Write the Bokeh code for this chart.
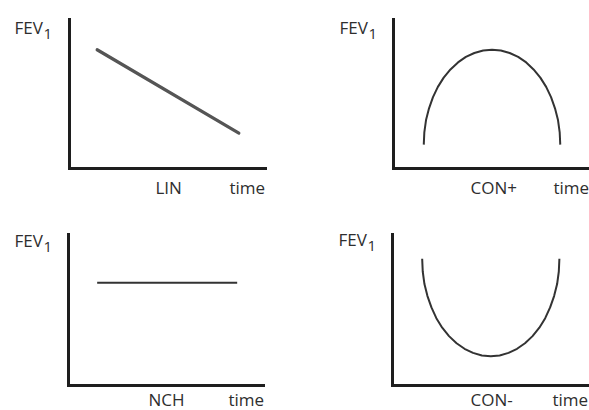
from bokeh.plotting import figure
from bokeh.layouts import gridplot
from bokeh.models import Range1d, FixedTicker, LinearAxis
from bokeh.core.properties import value
from bokeh.embed import file_html
from bokeh.resources import INLINE

# ---- data (arbitrary units 0..10) ----
lin_time = [1.41, 8.64]
lin_fev = [7.97, 2.37]

conp_time = [1.61, 1.64, 1.73, 1.89, 2.10, 2.36, 2.67, 3.03, 3.43, 3.85, 4.30, 4.77, 5.24,
             5.71, 6.18, 6.63, 7.06, 7.45, 7.81, 8.12, 8.38, 8.59, 8.75, 8.84, 8.87]
conp_fev = [1.60, 2.43, 3.25, 4.04, 4.79, 5.48, 6.10, 6.65, 7.12, 7.49, 7.75, 7.92, 7.97,
            7.92, 7.75, 7.49, 7.12, 6.65, 6.10, 5.48, 4.79, 4.04, 3.25, 2.43, 1.60]

nch_time = [1.47, 8.65]
nch_fev = [6.80, 6.80]

conm_time = [1.57, 1.60, 1.69, 1.85, 2.06, 2.32, 2.63, 2.99, 3.39, 3.81, 4.26, 4.73, 5.20,
             5.67, 6.14, 6.59, 7.01, 7.41, 7.77, 8.08, 8.34, 8.55, 8.71, 8.80, 8.83]
conm_fev = [8.39, 7.55, 6.72, 5.92, 5.17, 4.46, 3.83, 3.27, 2.80, 2.43, 2.16, 1.99, 1.94,
            1.99, 2.16, 2.43, 2.80, 3.27, 3.83, 4.46, 5.17, 5.92, 6.72, 7.55, 8.39]

panel_names = ["LIN", "CON+", "NCH", "CON-"]
y_label = "FEV"
y_label_sub = "1"
x_label = "time"

FONT = "Open Sans"
TXT = "#2e2e2e"
AXC = "#1e1e1e"


class Panel:
    def __init__(self, w, h, ox, oy, sx, sy, x_end):
        # ox, oy: pixel position of the axes origin from the figure's top-left
        # sx, sy: pixels per data unit
        self.sx, self.sy = sx, sy
        x_range = Range1d(-ox / sx, (w - ox) / sx)
        y_range = Range1d(-(h - oy) / sy, oy / sy)
        p = figure(width=w, height=h, x_range=x_range, y_range=y_range,
                   min_border=0, x_axis_location=None, y_axis_location=None,
                   output_backend="svg", toolbar_location=None)
        p.grid.visible = False
        p.outline_line_color = None
        p.background_fill_color = "white"
        p.border_fill_color = "white"
        for side, bounds in (("below", (0, x_end)), ("left", (0, 10))):
            ax = LinearAxis(fixed_location=0, bounds=bounds,
                            ticker=FixedTicker(ticks=[]),
                            major_label_text_font_size="0px",
                            major_tick_line_color=None, minor_tick_line_color=None,
                            axis_line_width=3, axis_line_color=AXC,
                            axis_line_cap="square")
            p.add_layout(ax, side)
        self.p = p

    def text(self, txt, dx, dy, size="17px"):
        # dx, dy: pixel offsets from the origin (dy positive downwards)
        self.p.text(x=[dx / self.sx], y=[-dy / self.sy], text=[txt],
                    text_font=value(FONT), text_font_size=value(size),
                    text_color=TXT, text_align="left", text_baseline="alphabetic")

    def labels(self, name, fev_dx, fev_dy, name_dx, time_dx, bottom_dy):
        self.text(y_label, fev_dx, fev_dy)
        self.text(y_label_sub, fev_dx + 29, fev_dy + 6.5, size="15px")
        self.text(name, name_dx, bottom_dy)
        self.text(x_label, time_dx, bottom_dy)


# top-left: LIN
a = Panel(294, 205, 69, 168, 19.6, 14.9, 10)
a.p.line(lin_time, lin_fev, line_color="#555555", line_width=3.2, line_cap="round")
a.labels(panel_names[0], -55, -140.7, 86, 160, 18.7)

# top-right: CON+
b = Panel(295, 205, 99, 168, 18.8, 14.9, 11)
b.p.line(conp_time, conp_fev, line_color="#333333", line_width=2, line_join="round")
b.labels(panel_names[1], -54, -140.7, 77, 160, 18.7)

# bottom-left: NCH
c = Panel(294, 205, 68, 180, 19.5, 15.1, 10)
c.p.line(nch_time, nch_fev, line_color="#333333", line_width=2)
c.labels(panel_names[2], -54, -145, 80, 160, 14)

# bottom-right: CON-
d = Panel(295, 205, 98, 180, 18.9, 15.1, 11)
d.p.line(conm_time, conm_fev, line_color="#333333", line_width=2, line_join="round")
d.labels(panel_names[3], -54, -146, 78, 160, 14)

grid = gridplot([[a.p, b.p], [c.p, d.p]], toolbar_location=None)

open("out.html", "w").write(file_html(grid, INLINE))
